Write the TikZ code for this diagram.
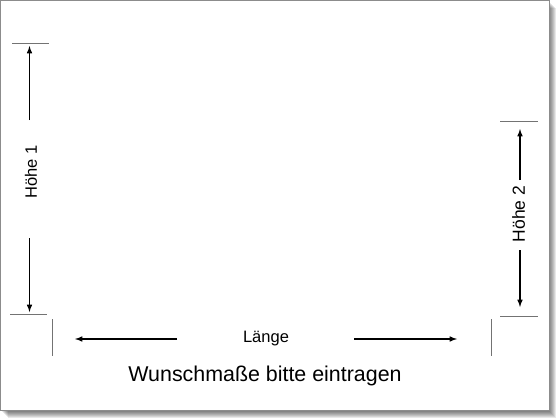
\documentclass[tikz,border=0pt]{standalone}
\usepackage{fontspec}
\setmainfont{Liberation Sans}
\usetikzlibrary{arrows,calc}

\begin{document}
\begin{tikzpicture}[x=1pt,y=-1pt]
\path [use as bounding box] (0,0) rectangle (560,420);
\tikzstyle{tick} = [draw=black!55, line width=1pt]
\tikzstyle{dim} = [-latex, line width=1.5pt, black]
\tikzstyle{label} = [inner sep=0pt, font=\fontsize{16.5}{19}\selectfont]
\foreach \i in {1,...,8}
  \fill[black, opacity=.09] (\i,\i) rectangle (548+\i,410+\i);
\draw[fill=white, draw=black!45, line width=1pt] (0.5,0.5) rectangle (549,410);
\coordinate (T1a) at (12,44);
\coordinate (T1b) at (49,44);
\coordinate (B1a) at (10,314);
\coordinate (B1b) at (47,314);
\coordinate (T2a) at (500,121);
\coordinate (T2b) at (538,121);
\coordinate (B2a) at (500,316);
\coordinate (B2b) at (538,316);
\coordinate (VLa) at (52,319);
\coordinate (VLb) at (52,356);
\coordinate (VRa) at (491,319);
\coordinate (VRb) at (491,356);
\coordinate (A1) at (29.5,120);
\coordinate (A1e) at (29.5,46);
\coordinate (A2) at (29.5,238);
\coordinate (A2e) at (29.5,312);
\coordinate (A3) at (520,180);
\coordinate (A3e) at (520,129);
\coordinate (A4) at (520,250);
\coordinate (A4e) at (520,307);
\coordinate (L1) at (177,339);
\coordinate (L1e) at (75,339);
\coordinate (L2) at (354,339);
\coordinate (L2e) at (457,339);
\draw[tick] (T1a) -- (T1b);
\draw[tick] (B1a) -- (B1b);
\draw[tick] (T2a) -- (T2b);
\draw[tick] (B2a) -- (B2b);
\draw[tick] (VLa) -- (VLb);
\draw[tick] (VRa) -- (VRb);
\draw[dim] (A1) -- (A1e);
\draw[dim] (A2) -- (A2e);
\draw[dim] (A3) -- (A3e);
\draw[dim] (A4) -- (A4e);
\draw[dim] (L1) -- (L1e);
\draw[dim] (L2) -- (L2e);
\node[label, rotate=90] (hoehe1) at (31,172) {Höhe 1};
\node[label, rotate=90, font=\fontsize{17.5}{20}\selectfont] (hoehe2) at (518.5,214) {Höhe 2};
\node[label, anchor=base] (laenge) at (266,342) {Länge};
\node[label, anchor=base, font=\fontsize{21.4}{25}\selectfont] (wunsch) at (265,381) {Wunschmaße bitte eintragen};
\end{tikzpicture}
\end{document}
